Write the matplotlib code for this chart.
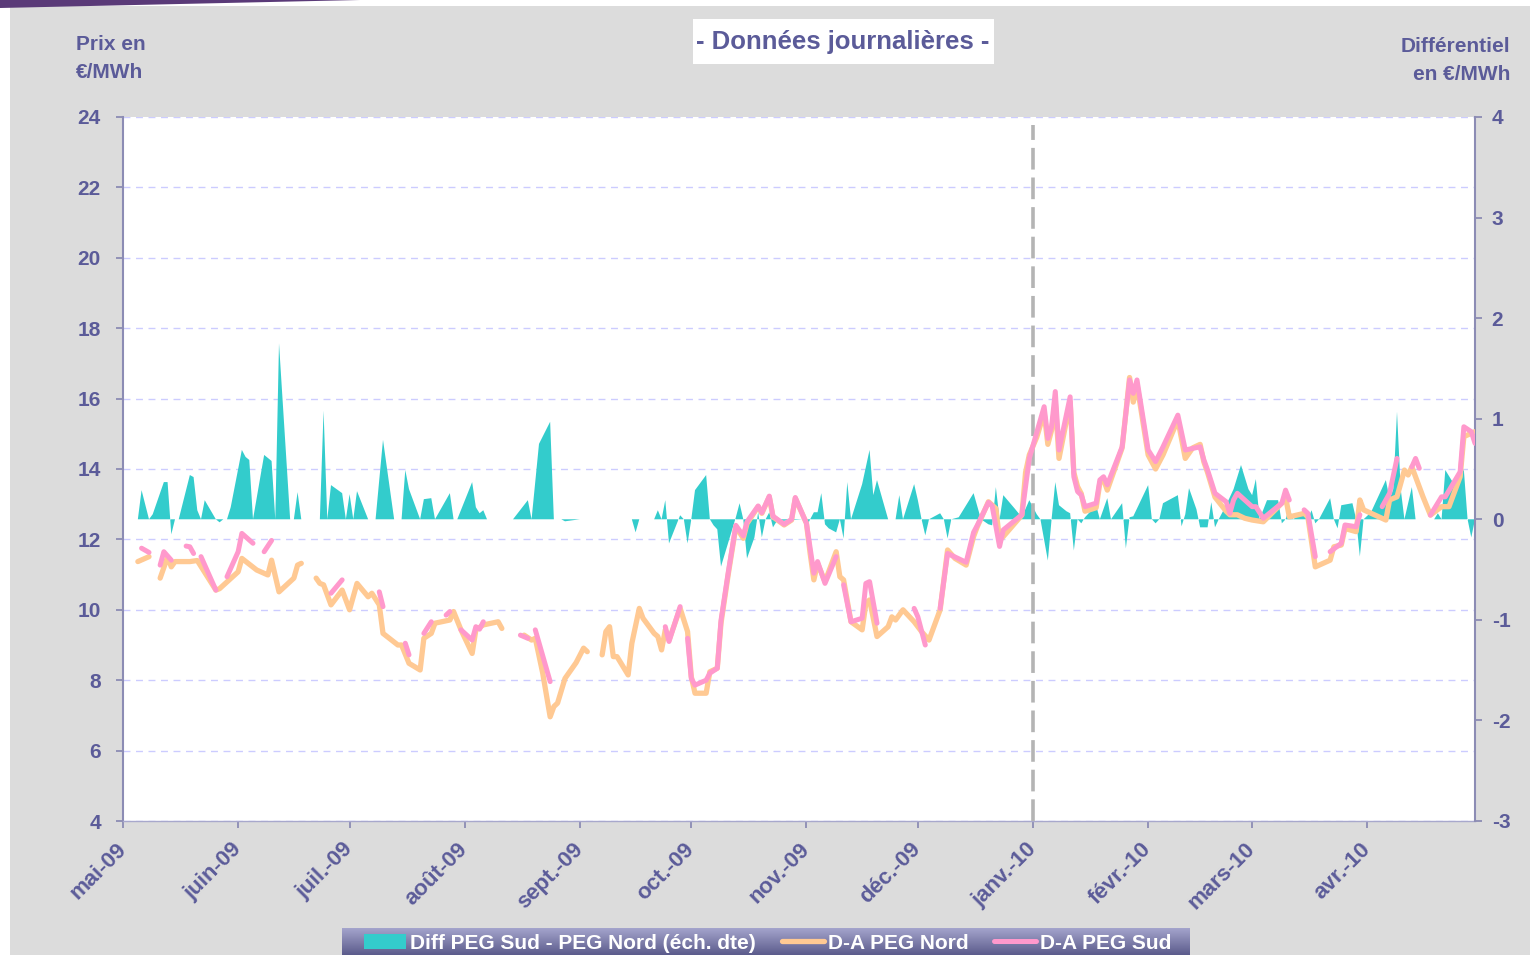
import numpy as np
import matplotlib
matplotlib.use("Agg")
import matplotlib.pyplot as plt
import matplotlib.transforms as mtransforms
from matplotlib.patches import Rectangle, Polygon
from matplotlib.colors import LinearSegmentedColormap

plt.rcParams['font.family'] = ['Liberation Sans', 'DejaVu Sans']
plt.rcParams['font.weight'] = 'bold'
plt.rcParams['axes.unicode_minus'] = False

nan = np.nan
start = np.datetime64('2009-05-01')

# days since 1 May 2009 ; nan = no quote
nord_days = [4, 7, 8, 10, 12, 13, 14, 18, 20, 25, 26, 31, 32, 36, 39, 40, 42, 46, 47, 48, 50,
             52, 53, 54, 56, 59, 61, 63, 66, 67, 69, 70, 74, 75, 77, 80, 81, 83, 84, 88, 89, 91,
             94, 95, 97, 101, 102, 105, 108, 110, 111, 113, 115, 116, 117, 119, 122, 124, 125,
             127, 129, 130, 131, 132, 133, 136, 137, 139, 140, 143, 144, 145, 146, 147, 150, 152,
             153, 154, 157, 158, 160, 161, 163, 165, 167, 168, 171, 172, 174, 175, 178, 180, 181,
             184, 185, 186, 187, 189, 192, 193, 194, 196, 199, 200, 201, 203, 206, 207, 208, 210,
             213, 215, 217, 220, 222, 224, 227, 229, 230, 233, 235, 236, 237, 242, 243, 244, 246,
             248, 249, 250, 251, 252, 255, 256, 257, 258, 259, 262, 263, 264, 265, 269, 271, 272,
             273, 276, 278, 280, 284, 286, 288, 290, 291, 292, 294, 297, 298, 300, 302, 304, 307,
             312, 313, 314, 318, 319, 321, 325, 326, 328, 329, 332, 333, 334, 340, 341, 343, 345,
             346, 347, 350, 352, 355, 357, 360, 361, 364]
nord_vals = [11.37, 11.51, nan, 10.9, 11.5, 11.22, 11.37, 11.37, 11.4, 10.56, 10.6, 11.08, 11.46,
             11.13, 10.99, 11.41, 10.51, 10.9, 11.27, 11.32, nan,
             10.9, 10.75, 10.71, 10.14, 10.56, 10.0, 10.75, 10.37, 10.47, 10.14, 9.33, 9.0, 9.0,
             8.48, 8.29, 9.19, 9.33, 9.62, 9.71, 9.95, 9.43, 8.76, 9.43, 9.57, 9.66, 9.47, nan,
             9.28, 9.14, 9.19, 8.2, 6.96, 7.25, 7.35, 8.05, 8.5, 8.91, 8.81, nan,
             8.72, 9.38, 9.52, 8.67, 8.67, 8.15, 9.05, 10.04, 9.76, 9.33, 9.24, 8.86, 9.43, 9.14,
             10.04, 9.38, 8.1, 7.63, 7.63, 8.24, 8.34, 9.62, 11.04, 12.36, 12.03, 12.45, 12.93,
             12.74, 13.21, 12.64, 12.41, 12.55, 13.17, 12.46, 11.6, 10.85, 11.32, 10.8, 11.65,
             10.94, 10.85, 9.66, 9.43, 10.18, 10.28, 9.24, 9.52, 9.8, 9.71, 10.0, 9.66, 9.38, 9.14,
             10.0, 11.7, 11.46, 11.27, 12.08, 12.36, 13.07, 12.88, 11.98, 12.08, 12.69, 13.9, 14.4,
             14.9, 15.6, 14.7, 15.1, 15.9, 14.3, 15.9, 13.9, 13.5, 13.3, 12.8, 12.9, 13.6, 13.7,
             13.4, 14.6, 16.6, 15.9, 16.4, 14.4, 14.0, 14.4, 15.4, 14.3, 14.6, 14.7, 14.2, 13.9,
             13.2, 12.8, 12.7, 12.7, 12.6, 12.55, 12.5, 13.03, 13.21, 12.64, 12.74, 12.64, 11.22,
             11.41, 11.79, 11.84, 12.31, 12.22, 13.12, 12.84, 12.55, 13.12, 13.21, 13.97, 13.83,
             14.06, 13.21, 12.69, 12.93, 12.93, 13.78, 14.92, 15.06]

sud_days = [5, 7, 8, 10, 11, 13, 15, 17, 18, 19, 20, 21, 25, 26, 28, 31, 32, 35, 36, 38, 40, 41,
            56, 59, 60, 69, 70, 72, 76, 77, 79, 81, 83, 85, 87, 88, 89, 91, 94, 95, 96, 97, 100,
            107, 109, 110, 111, 115, 120, 146, 147, 150, 151, 152, 153, 154, 157, 158, 160, 161,
            163, 165, 167, 168, 171, 172, 174, 175, 178, 180, 181, 184, 186, 187, 189, 192, 193,
            194, 196, 199, 200, 201, 203, 205, 213, 214, 216, 218, 220, 222, 224, 227, 229, 230,
            233, 234, 236, 237, 242, 244, 248, 249, 250, 251, 252, 255, 256, 257, 258, 259, 262,
            263, 264, 265, 269, 271, 272, 273, 276, 278, 280, 284, 286, 290, 291, 292, 294, 297,
            298, 299, 300, 304, 305, 307, 312, 313, 314, 316, 318, 319, 321, 323, 325, 328, 329,
            332, 333, 336, 339, 341, 343, 345, 347, 348, 349, 350, 352, 355, 356, 360, 361, 363,
            364]
sud_vals = [11.75, 11.63, nan, 11.27, 11.65, 11.41, nan, 11.81, 11.79, 11.6, nan, 11.51, 10.56,
            nan, 10.94, 11.65, 12.17, 11.89, nan, 11.65, 11.97, nan,
            10.47, 10.85, nan, 10.51, 10.09, nan, 9.05, 8.72, nan, 9.33, 9.66, nan, 9.85, 9.95,
            nan, 9.43, 9.14, 9.52, 9.45, 9.66, nan,
            9.28, 9.19, nan, 9.43, 7.96, nan, 9.52, 9.1, 10.09, nan, 9.19, 8.05, 7.86, 8.0, 8.2,
            8.34, 9.7, 11.1, 12.4, 12.1, 12.5, 12.95, 12.76, 13.23, 12.66, 12.43, 12.57, 13.19,
            12.46, 11.04, 11.37, 10.75, 11.51, nan,
            10.71, 9.66, 9.76, 10.75, 10.8, 9.62, nan, 10.04, 9.8, 9.0, nan, 10.04, 11.6, 11.5,
            11.35, 12.2, 12.4, 13.05, 12.95, 11.8, 12.27, 12.7, 14.3, 15.77, 14.87, 15.2, 16.2,
            14.54, 16.05, 13.78, 13.36, 13.26, 12.93, 13.03, 13.69, 13.78, 13.55, 14.63, 16.53,
            16.15, 16.53, 14.54, 14.21, 14.63, 15.53, 14.54, 14.63, 14.26, 13.97, 13.31, 13.07,
            12.74, 13.12, 13.31, 12.93, 12.93, 12.6, 13.03, 13.4, 13.12, nan, 12.84, 12.74, 11.51,
            nan, 11.65, 11.89, 12.41, 12.36, 12.7, nan, 12.93, 13.31, 14.3, nan, 14.06, 14.3,
            14.02, nan, 12.69, 13.21, 13.21, 13.92, 15.2, 15.06, 14.73]

diff_days = [4, 5, 7, 8, 11, 12, 13, 14, 15, 18, 19, 20, 21, 22, 25, 26, 27, 28, 29, 32, 33, 34,
             35, 38, 40, 41, 42, 45, 46, 47, 48, 50, 53, 54, 55, 56, 59, 60, 61, 62, 63, 66, 68,
             70, 73, 75, 76, 77, 80, 81, 83, 84, 88, 89, 90, 94, 95, 96, 97, 98, 100, 105, 109,
             110, 112, 115, 116, 117, 118, 119, 123, 125, 137, 138, 139, 141, 143, 144, 145, 146,
             147, 150, 151, 152, 153, 154, 157, 158, 159, 160, 161, 165, 166, 167, 168, 170, 171,
             172, 173, 174, 175, 176, 183, 184, 185, 186, 187, 188, 189, 190, 192, 193, 194, 195,
             196, 199, 201, 202, 203, 206, 208, 209, 210, 213, 214, 215, 216, 217, 220, 221, 222,
             223, 225, 229, 231, 233, 234, 235, 236, 237, 240, 242, 244, 246, 247, 249, 250, 251,
             252, 254, 255, 256, 257, 258, 259, 262, 263, 265, 266, 269, 270, 271, 272, 276, 277,
             278, 279, 280, 284, 285, 286, 287, 289, 290, 292, 293, 294, 295, 297, 299, 301, 303,
             304, 305, 306, 308, 311, 312, 313, 314, 315, 317, 318, 319, 320, 321, 322, 325, 326,
             327, 328, 331, 332, 333, 334, 336, 340, 341, 342, 343, 344, 345, 347, 348, 353, 354,
             355, 356, 358, 361, 362, 363, 364]
diff_vals = [0, 0.29, 0, 0.05, 0.37, 0.37, -0.15, 0, 0, 0.44, 0.42, 0.09, 0, 0.19, 0, -0.03, 0,
             0, 0.12, 0.69, 0.62, 0.59, 0, 0.64, 0.58, 0, 1.75, 0, 0, 0.27, 0, nan, 0, 1.08, 0,
             0.34, 0.26, 0, 0.25, 0, 0.28, 0, 0, 0.79, 0, 0, 0.49, 0.30, 0, 0.2, 0.21, 0, 0.26, 0,
             0, 0.37, 0.12, 0.06, 0.09, 0, nan, 0, 0.19, 0, 0.75, 0.97, 0, nan, 0, -0.02, 0, nan,
             0, -0.13, 0, nan, 0, 0.09, 0, 0.19, -0.24, 0.04, 0, -0.24, 0, 0.29, 0.44, 0, -0.06,
             -0.1, -0.47, 0.02, 0.16, 0, -0.39, -0.18, 0.07, -0.18, 0, 0.07, -0.08, -0.02, 0,
             -0.08, 0, 0.07, 0.07, 0.26, -0.05, -0.09, -0.13, 0, -0.19, 0.37, 0, 0.35, 0.69, 0.24,
             0.39, 0, 0, 0.24, 0, 0.35, 0.19, 0, -0.16, 0, 0.06, 0, -0.19, 0, 0.02, 0.26, 0, -0.05,
             -0.06, 0.32, 0, 0.24, 0.11, 0.02, 0.19, 0.05, 0, -0.41, 0, 0.37, 0.14, 0.08, 0.06,
             -0.31, 0, -0.04, 0.02, 0.14, 0, 0.21, 0, 0.16, -0.29, 0.02, 0.03, 0.34, 0, -0.04, 0,
             0.16, 0.24, -0.07, 0.05, 0.31, 0.1, -0.08, -0.08, 0.17, -0.08, 0, 0.14, 0.3, 0.54,
             0.3, 0.24, 0.4, 0, 0.19, 0.19, -0.04, 0, 0.12, 0, 0.05, 0.09, 0, 0.09, -0.04, 0, 0.21,
             0, -0.09, 0.14, 0.16, 0, -0.37, 0, 0.07, 0.39, 0.2, 0.3, 1.07, 0.3, 0, 0.32, 0, 0,
             0.06, 0, 0.49, 0.37, 0.49, 0, -0.18, 0]

month_labels = ['mai-09', 'juin-09', 'juil.-09', 'août-09', 'sept.-09', 'oct.-09', 'nov.-09',
                'déc.-09', 'janv.-10', 'févr.-10', 'mars-10', 'avr.-10']
series_labels = ['Diff PEG Sud - PEG Nord (éch. dte)', 'D-A PEG Nord', 'D-A PEG Sud']

to_dates = lambda d: start + np.array(d, dtype='timedelta64[D]')

W, H = 1530, 955
fx = lambda px: px / W
fy = lambda py: 1 - py / H
txt = '#5b5b99'
axc = '#8c8cb4'

fig = plt.figure(figsize=(W / 100, H / 100), dpi=100)
fig.patches.append(Rectangle((fx(10), 0), 1 - fx(10), fy(6), transform=fig.transFigure,
                             fc='#dcdcdc', ec='none', zorder=-10))
fig.patches.append(Polygon([(0, 1), (fx(360), 1), (0, fy(8))], closed=True,
                           transform=fig.transFigure, fc='#5a3a78', ec='none'))

rect = [fx(123), fy(821), fx(1475) - fx(123), fy(117) - fy(821)]
ax1 = fig.add_axes(rect)
ax2 = ax1.twinx()
ax3 = fig.add_axes(rect, sharex=ax1, sharey=ax1)
ax3.set_axis_off()
ax3.patch.set_visible(False)

# differential (right axis)
teal = ax2.fill_between(to_dates(diff_days), 0, np.array(diff_vals, dtype=float),
                        color='#33cccc', lw=0)
ax2.set_ylim(-3, 4)
ax2.set_yticks(range(-3, 5))

# prices (left axis)
ax3.axvline(np.datetime64('2010-01-01'), ymax=0.989, color='#b4b4b4', lw=2.6,
            ls=(0, (6, 2.2)), zorder=1)
nord, = ax3.plot(to_dates(nord_days), nord_vals, color='#ffc993', lw=3.8,
                 solid_capstyle='round', solid_joinstyle='round', zorder=2)
sud, = ax3.plot(to_dates(sud_days), sud_vals, color='#ff99cc', lw=3.6,
                solid_capstyle='round', solid_joinstyle='round', zorder=3)

ax1.set_ylim(4, 24)
ax1.set_yticks(range(4, 25, 2))
ax1.set_xlim(start, start + np.timedelta64(364, 'D'))
ticks = np.arange('2009-05', '2010-05', dtype='datetime64[M]').astype('datetime64[D]')
ax1.set_xticks(ticks)
ax1.set_xticklabels(month_labels, rotation=45, ha='right', va='center', rotation_mode='anchor')
shift = mtransforms.ScaledTranslation(-4 / 72, -2 / 72, fig.dpi_scale_trans)
for lab in ax1.get_xticklabels():
    lab.set_transform(lab.get_transform() + shift)
ax1.yaxis.grid(True, ls=(0, (5, 4)), color='#ccccff', lw=1)
ax1.set_axisbelow(True)

for s in ['top', 'right']:
    ax1.spines[s].set_visible(False)
for s in ['top', 'bottom', 'left']:
    ax2.spines[s].set_visible(False)
ax1.spines['left'].set_color(axc)
ax1.spines['left'].set_linewidth(1.5)
ax1.spines['bottom'].set_color('#a8a8cc')
ax1.spines['bottom'].set_linewidth(1)
ax2.spines['right'].set_color(axc)
ax2.spines['right'].set_linewidth(1.5)

ax1.tick_params(axis='y', colors=axc, labelcolor=txt, labelsize=15, length=5, width=1.3, pad=11)
ax1.tick_params(axis='x', colors=axc, labelcolor=txt, labelsize=16, length=5, width=1.3, pad=13)
ax2.tick_params(axis='y', colors=axc, labelcolor=txt, labelsize=15, length=5, width=1.3, pad=7)

# texts
fig.text(fx(76), fy(35), 'Prix en\n€/MWh', ha='left', va='top', fontsize=15, color=txt,
         linespacing=1.6)
fig.text(fx(1510), fy(37), 'Différentiel\nen €/MWh', ha='right', va='top', fontsize=15,
         color=txt, linespacing=1.6, multialignment='right')
fig.patches.append(Rectangle((fx(693), fy(64)), fx(994) - fx(693), (64 - 19) / H,
                             transform=fig.transFigure, fc='white', ec='none'))
fig.text(fx(843), fy(42), '- Données journalières -', ha='center', va='center', fontsize=18.5,
         color=txt)

# legend
gax = fig.add_axes([fx(342), 0, fx(1190) - fx(342), fy(928)])
gax.imshow(np.linspace(0, 1, 40).reshape(-1, 1), aspect='auto',
           cmap=LinearSegmentedColormap.from_list('g', ['#a6a6ce', '#5c5c8c']))
gax.set_axis_off()
fig.legend([teal, nord, sud], series_labels, loc='center', bbox_to_anchor=(fx(768), fy(943)),
           ncol=3, frameon=False, prop={'size': 15, 'weight': 'bold'}, labelcolor='white',
           handlelength=2.0, handletextpad=0.2, columnspacing=1.25)

fig.savefig('out.png', dpi=100)
